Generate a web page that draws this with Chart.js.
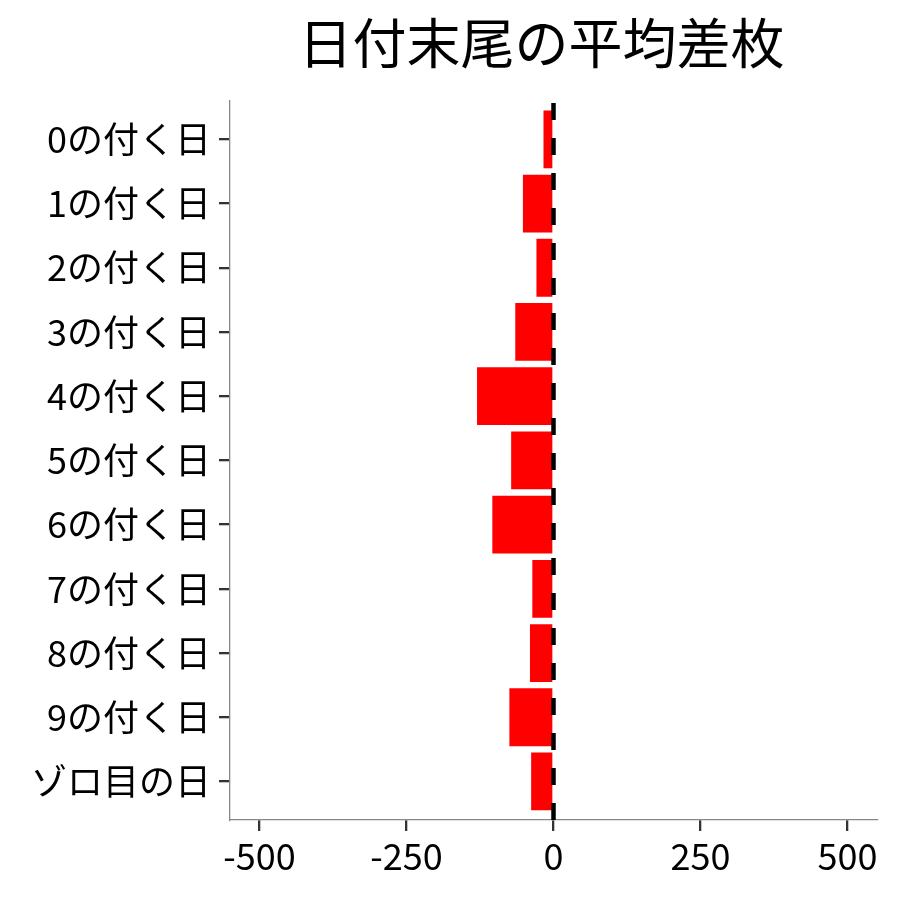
<!DOCTYPE html>
<html>
<head>
<meta charset="utf-8">
<script src="https://cdn.jsdelivr.net/npm/chart.js@4.4.1/dist/chart.umd.min.js"></script>
<style>
  html, body { margin: 0; padding: 0; background: #fff; }
  #wrap { width: 900px; height: 900px; }
</style>
</head>
<body>
<div id="wrap"><canvas id="diff-chart" width="900" height="900"></canvas></div>
<script>
// 日付末尾ごとの平均差枚
const dayLabels = ['0の付く日', '1の付く日', '2の付く日', '3の付く日', '4の付く日',
    '5の付く日', '6の付く日', '7の付く日', '8の付く日', '9の付く日', 'ゾロ目の日'];
const avgDiff = [-17, -52, -29, -65, -130, -72, -104, -36, -40, -75, -38];
const xTickValues = [-500, -250, 0, 250, 500];

const FONT = '"Noto Sans CJK JP", "Noto Sans", sans-serif';

// dashed line at zero
const zeroLine = {
    id: 'zeroLine',
    afterDatasetsDraw(chart) {
        const { ctx, chartArea, scales } = chart;
        const x = scales.x.getPixelForValue(0);
        ctx.save();
        ctx.strokeStyle = '#000';
        ctx.lineWidth = 4.5;
        ctx.setLineDash([17, 18]);
        ctx.beginPath();
        ctx.moveTo(x, chartArea.bottom);
        ctx.lineTo(x, chartArea.top);
        ctx.stroke();
        ctx.restore();
    }
};

// center title over the panel, not the whole canvas
const panelTitle = {
    id: 'panelTitle',
    afterLayout(chart) {
        const t = chart.titleBlock;
        if (!t) return;
        const c = (chart.chartArea.left + chart.chartArea.right) / 2 - 12;
        t.left = c - 300;
        t.right = c + 300;
    }
};

const ctx = document.getElementById('diff-chart').getContext('2d');

new Chart(ctx, {
    type: 'bar',
    data: {
        datasets: [{
            data: avgDiff.map((v, i) => ({ x: v, y: i })),
            backgroundColor: '#ff0000',
            borderWidth: 0,
            categoryPercentage: 1,
            barPercentage: 0.9
        }]
    },
    options: {
        indexAxis: 'y',
        responsive: false,
        animation: false,
        layout: { padding: { left: 0, right: 23, top: 0, bottom: 0 } },
        plugins: {
            legend: { display: false },
            tooltip: { enabled: false },
            title: {
                display: true,
                text: '日付末尾の平均差枚',
                color: '#000',
                font: { family: FONT, size: 54, weight: 'normal' },
                padding: { top: 11, bottom: 25 }
            }
        },
        scales: {
            x: {
                type: 'linear',
                min: -550,
                max: 550,
                afterBuildTicks: (scale) => {
                    scale.ticks = xTickValues.map(v => ({ value: v }));
                },
                afterFit: (scale) => { scale.height = 80; },
                grid: {
                    drawOnChartArea: false,
                    drawTicks: true,
                    tickLength: 11,
                    lineWidth: 2.3,
                    color: '#333333'
                },
                border: { display: true, color: '#888888', width: 1.3 },
                ticks: {
                    color: '#000',
                    padding: 4,
                    maxRotation: 0,
                    font: { family: FONT, size: 36 }
                }
            },
            y: {
                type: 'linear',
                min: -0.6,
                max: 10.6,
                reverse: true,
                offset: false,
                afterBuildTicks: (scale) => {
                    scale.ticks = dayLabels.map((_, i) => ({ value: i }));
                },
                afterFit: (scale) => { scale.width = 230; },
                grid: {
                    offset: false,
                    drawOnChartArea: false,
                    drawTicks: true,
                    tickLength: 11,
                    lineWidth: 2.3,
                    color: '#333333'
                },
                border: { display: true, color: '#888888', width: 1.3 },
                ticks: {
                    color: '#000',
                    padding: 8,
                    autoSkip: false,
                    font: { family: FONT, size: 36 },
                    callback: (v) => dayLabels[v]
                }
            }
        }
    },
    plugins: [zeroLine, panelTitle]
});
</script>
</body>
</html>
